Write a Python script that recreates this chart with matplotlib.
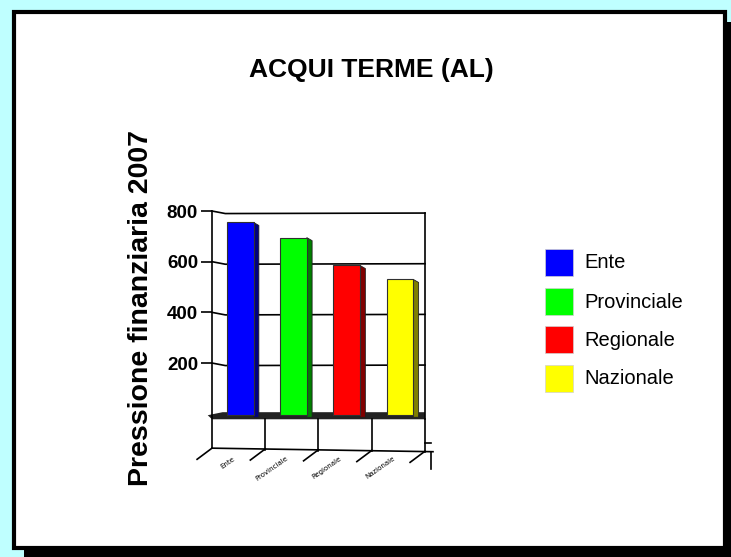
import matplotlib
matplotlib.use("Agg")
import matplotlib.pyplot as plt
from matplotlib.patches import Rectangle, Polygon

# data
categories = ["Ente", "Provinciale", "Regionale", "Nazionale"]
values = [755, 695, 585, 530]
colors = ["#0000ff", "#00ff00", "#ff0000", "#ffff00"]
side_colors = ["#000080", "#008000", "#800000", "#808000"]
yticks = [200, 400, 600, 800]
title = "ACQUI TERME (AL)"
ylabel = "Pressione finanziaria 2007"

W, H = 731, 557
fig = plt.figure(figsize=(W / 100, H / 100), dpi=100, facecolor="#bfffff")


def fx(px):
    return px / W


def fy(py):
    return 1 - py / H


# panel with drop shadow (kept behind the axes)
fig.add_artist(Rectangle((fx(24), fy(557)), fx(731 - 24), 535 / H,
                         facecolor="black", edgecolor="none",
                         transform=fig.transFigure, zorder=-3))
fig.add_artist(Rectangle((fx(14), fy(548)), fx(725 - 14), 536 / H,
                         facecolor="white", edgecolor="black", linewidth=3,
                         transform=fig.transFigure, zorder=-2))

ax = fig.add_axes([0.2900, 0.139, 0.2914, 0.4867])
ax.set_zorder(2)
ax.set_xlim(0, 4)
ax.set_ylim(-260, 810)
ax.patch.set_visible(False)
for s in ax.spines.values():
    s.set_visible(False)
ax.set_xticks([])
ax.set_yticks(yticks)
ax.set_yticklabels([str(t) for t in yticks], fontweight="bold",
                   family="Liberation Sans")
ax.tick_params(axis="y", length=8, width=1.2, labelsize=13.5, pad=2)

kw = dict(color="black", lw=1.2, clip_on=False)

# back wall grid lines
for v in yticks:
    ax.plot([0, 0.25, 4], [v, v - 10, v - 8], **kw)
ax.plot([4, 4], [-20, 792], **kw)

# floor band
ax.add_patch(Polygon([(-0.08, -6), (0.2, 6), (4, 6), (4, -22), (0, -22)],
                     closed=True, facecolor="#222222", edgecolor="none",
                     clip_on=False))

# bars with side face
w, d, dy = 0.5, 0.1, 12
for i, (v, c, sc) in enumerate(zip(values, colors, side_colors)):
    x0 = i + 0.28
    ax.add_patch(Polygon([(x0 + w, -14), (x0 + w + d, -14),
                          (x0 + w + d, v - dy), (x0 + w, v)],
                         closed=True, facecolor=sc, edgecolor="#202020",
                         linewidth=0.6, zorder=3))
    ax.add_patch(Rectangle((x0, -6), w, v + 6, facecolor=c,
                           edgecolor="#303030", linewidth=0.8, zorder=4))

# floor box and axes lines
ax.plot([0, 0], [-136, 800], **kw)
ax.plot([0, 4.15], [-136, -150], **kw)
for i in range(1, 5):
    ax.plot([i, i], [-22, -140 - 3 * i], **kw)
ax.plot([4, 4.12], [-116, -116], **kw)
ax.plot([4.12, 4.12], [-150, -220], **kw)
for i in range(5):
    ax.plot([i, i - 0.28], [-136 - 3 * i, -180 - 3 * i], **kw)

# category labels (tiny, rotated)
for i, cat in enumerate(categories):
    ax.text(i + 0.45, -165, cat, fontsize=5, rotation=35, ha="right",
            va="top", clip_on=False)

fig.text(fx(371), fy(70), title, ha="center", va="center", fontsize=19,
         fontweight="bold", family="Liberation Sans")
fig.text(fx(141), fy(308), ylabel, ha="center", va="center", fontsize=20.5,
         fontweight="bold", rotation=90, family="Liberation Sans")

# legend
box_tops = [249, 288, 326, 365]
for cat, c, top in zip(categories, colors, box_tops):
    fig.add_artist(Rectangle((fx(545), fy(top + 27)), fx(28), 27 / H,
                             facecolor=c, edgecolor="#d0d0d0", linewidth=0.5,
                             transform=fig.transFigure))
    fig.text(fx(584), fy(top + 14), cat, ha="left", va="center",
             fontsize=14.5, family="Liberation Sans")

fig.savefig("out.png", dpi=100, facecolor=fig.get_facecolor())
